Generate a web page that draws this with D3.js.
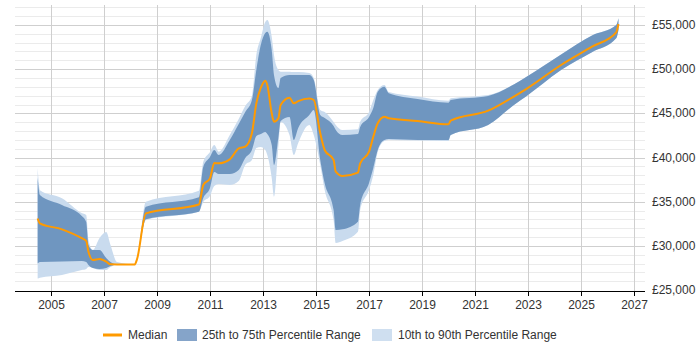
<!DOCTYPE html>
<html>
<head>
<meta charset="utf-8">
<script src="https://cdn.jsdelivr.net/npm/d3@7"></script>
<style>
  body { margin: 0; background: #fff; }
  text { font-family: "Liberation Sans", Arial, sans-serif; font-size: 12px; fill: #333; }
</style>
</head>
<body>
<svg id="chart"></svg>
<script>
const width = 700;
const height = 350;

// sample months
const months = [
  "2004-07", "2004-08", "2005-06", "2006-03", "2006-05", "2006-06", "2006-08", "2006-11",
  "2007-02", "2007-04", "2007-07", "2008-03", "2008-04", "2008-08", "2010-08", "2010-10",
  "2011-01", "2011-03", "2011-05", "2011-10", "2012-02", "2012-05", "2012-08", "2012-10",
  "2012-12", "2013-02", "2013-03", "2013-05", "2013-06", "2013-08", "2013-09", "2014-01",
  "2014-03", "2014-05", "2014-10", "2014-12", "2015-03", "2015-05", "2015-09", "2015-10",
  "2016-01", "2016-08", "2016-09", "2017-01", "2017-03", "2017-05", "2017-08", "2017-10",
  "2018-11", "2020-01", "2020-02", "2021-07", "2022-07", "2022-12", "2024-04", "2025-06",
  "2026-05", "2026-06"
];

const p10 = [
  26300, 26400, 26700, 27260, 27380, 27600, 27490, 27260,
  27260, 27600, 27900, 27900, 28500, 32920, 33860, 34960,
  35640, 36770, 37000, 36890, 37340, 39150, 39720, 41070,
  41190, 40850, 40280, 37680, 35560, 41300, 44020, 42550,
  40280, 41640, 43680, 42550, 39150, 36320, 32920, 30320,
  30550, 31600, 34060, 36320, 38020, 40620, 41870, 41980,
  41920, 41870, 42550, 43680, 46010, 46880, 49900, 51920,
  53490, 54430
];

const p25 = [
  28000, 28170, 28230, 28280, 28170, 27830, 27490, 27380,
  27490, 27720, 27900, 27900, 28500, 33000, 33860, 35410,
  36550, 38360, 38130, 38130, 38580, 39940, 40850, 42430,
  42660, 42890, 42660, 41410, 39150, 42300, 44130, 44580,
  41980, 43340, 44810, 45380, 39720, 37080, 34060, 31790,
  31870, 32730, 34620, 37110, 38810, 40850, 41980, 42090,
  41980, 41980, 42550, 43680, 46010, 46880, 49900, 51920,
  53490, 54430
];

const median = [
  33100, 32550, 31870, 30860, 30550, 29340, 28400, 28510,
  28200, 27910, 27900, 27900, 28500, 33680, 34680, 36890,
  37640, 39380, 39340, 39790, 41020, 41220, 42740, 46130,
  47870, 48690, 48210, 45000, 44050, 44440, 45940, 46770,
  46130, 46390, 46680, 46510, 42740, 40850, 39720, 38390,
  37900, 38280, 39340, 40660, 42350, 43870, 44620, 44440,
  44130, 43760, 44170, 45300, 46960, 47720, 50470, 52540,
  54170, 55110
];

const p75 = [
  37700, 35750, 34620, 33380, 32700, 30090, 29530, 29530,
  28620, 28170, 27900, 27900, 28500, 34430, 35490, 38960,
  40060, 40850, 40280, 41980, 43790, 45150, 46510, 49900,
  52730, 54090, 54240, 52170, 49340, 47870, 49000, 49340,
  49340, 49340, 49340, 48770, 44810, 44470, 43560, 43110,
  42550, 42660, 43450, 44580, 45600, 47450, 48010, 47270,
  46620, 46200, 46510, 46960, 48320, 49080, 51660, 53820,
  55000, 55760
];

const p90 = [
  38800, 36300, 35400, 33720, 33490, 30660, 29530, 30890,
  31570, 30090, 28170, 27900, 28500, 35000, 36240, 39520,
  40620, 41410, 40660, 42550, 44360, 45830, 46960, 51600,
  53530, 55340, 55560, 53670, 51600, 49900, 49710, 49710,
  49680, 49680, 49560, 49000, 45380, 45150, 44020, 43680,
  43110, 43190, 44050, 45150, 46510, 47640, 48210, 47410,
  46900, 46430, 46700, 47070, 48320, 49080, 51660, 53820,
  55000, 55760
];

const tickYears = [2005, 2007, 2009, 2011, 2013, 2015, 2017, 2019, 2021, 2023, 2025, 2027];
const yTicks = [25000, 30000, 35000, 40000, 45000, 50000, 55000];

const parseMonth = d3.timeParse("%Y-%m");
const data = months.map((m, i) => ({
  date: parseMonth(m),
  p10: p10[i], p25: p25[i], median: median[i], p75: p75[i], p90: p90[i]
}));

const plotLeft = 15, plotRight = 645, plotTop = 5, plotBottom = 291;

const x = d3.scaleTime()
  .domain([new Date(2005, 0, 1), new Date(2027, 0, 1)])
  .range([51, 634]);

const y = d3.scaleLinear()
  .domain([25000, 55000])
  .range([290, 25]);

const svg = d3.select("#chart").attr("width", width).attr("height", height);

// horizontal grid, minor every 1000, major every 5000
const gridVals = d3.range(26000, 57001, 1000);
svg.append("g").selectAll("line").data(gridVals).join("line")
  .attr("x1", plotLeft).attr("x2", plotRight)
  .attr("y1", d => Math.round(y(d)) + 0.5).attr("y2", d => Math.round(y(d)) + 0.5)
  .attr("stroke", d => d % 5000 === 0 ? "#cfcfcf" : "#ebebeb")
  .attr("stroke-width", 1);

// vertical grid at labelled years
svg.append("g").selectAll("line").data(tickYears).join("line")
  .attr("x1", d => Math.round(x(new Date(d, 0, 1))) + 0.5)
  .attr("x2", d => Math.round(x(new Date(d, 0, 1))) + 0.5)
  .attr("y1", plotTop).attr("y2", plotBottom)
  .attr("stroke", "#cfcfcf");

// bands
const band = (lo, hi) => d3.area()
  .x(d => x(d.date))
  .y0(d => y(d[lo]))
  .y1(d => y(d[hi]))
  .curve(d3.curveMonotoneX);

svg.append("path").datum(data)
  .attr("d", band("p10", "p90"))
  .attr("fill", "#c9dbee");

svg.append("path").datum(data)
  .attr("d", band("p25", "p75"))
  .attr("fill", "#6f96c0");

svg.append("path").datum(data)
  .attr("d", d3.line().x(d => x(d.date)).y(d => y(d.median)).curve(d3.curveMonotoneX))
  .attr("fill", "none")
  .attr("stroke", "#ff9a00")
  .attr("stroke-width", 2);

// x axis
svg.append("line")
  .attr("x1", plotLeft).attr("x2", plotRight)
  .attr("y1", plotBottom + 0.5).attr("y2", plotBottom + 0.5)
  .attr("stroke", "#000");

const xt = svg.append("g").selectAll("g").data(tickYears).join("g")
  .attr("transform", d => `translate(${Math.round(x(new Date(d, 0, 1))) + 0.5},0)`);
xt.append("line").attr("y1", plotBottom).attr("y2", plotBottom + 5).attr("stroke", "#000");
xt.append("text").attr("y", 309).attr("text-anchor", "middle").text(d => d);

// y labels
svg.append("g").selectAll("text").data(yTicks).join("text")
  .attr("x", 652)
  .attr("y", d => y(d) + 4)
  .text(d => "£" + d3.format(",")(d));

// legend
const lg = svg.append("g").attr("transform", "translate(0,335)");
lg.append("line").attr("x1", 103).attr("x2", 122).attr("stroke", "#ff9a00").attr("stroke-width", 3);
lg.append("text").attr("x", 128).attr("y", 4).text("Median");
lg.append("rect").attr("x", 177).attr("y", -6).attr("width", 20).attr("height", 12).attr("fill", "#85a4c9");
lg.append("text").attr("x", 202).attr("y", 4).text("25th to 75th Percentile Range");
lg.append("rect").attr("x", 372).attr("y", -6).attr("width", 20).attr("height", 12).attr("fill", "#cfdff0");
lg.append("text").attr("x", 398).attr("y", 4).text("10th to 90th Percentile Range");
</script>
</body>
</html>
